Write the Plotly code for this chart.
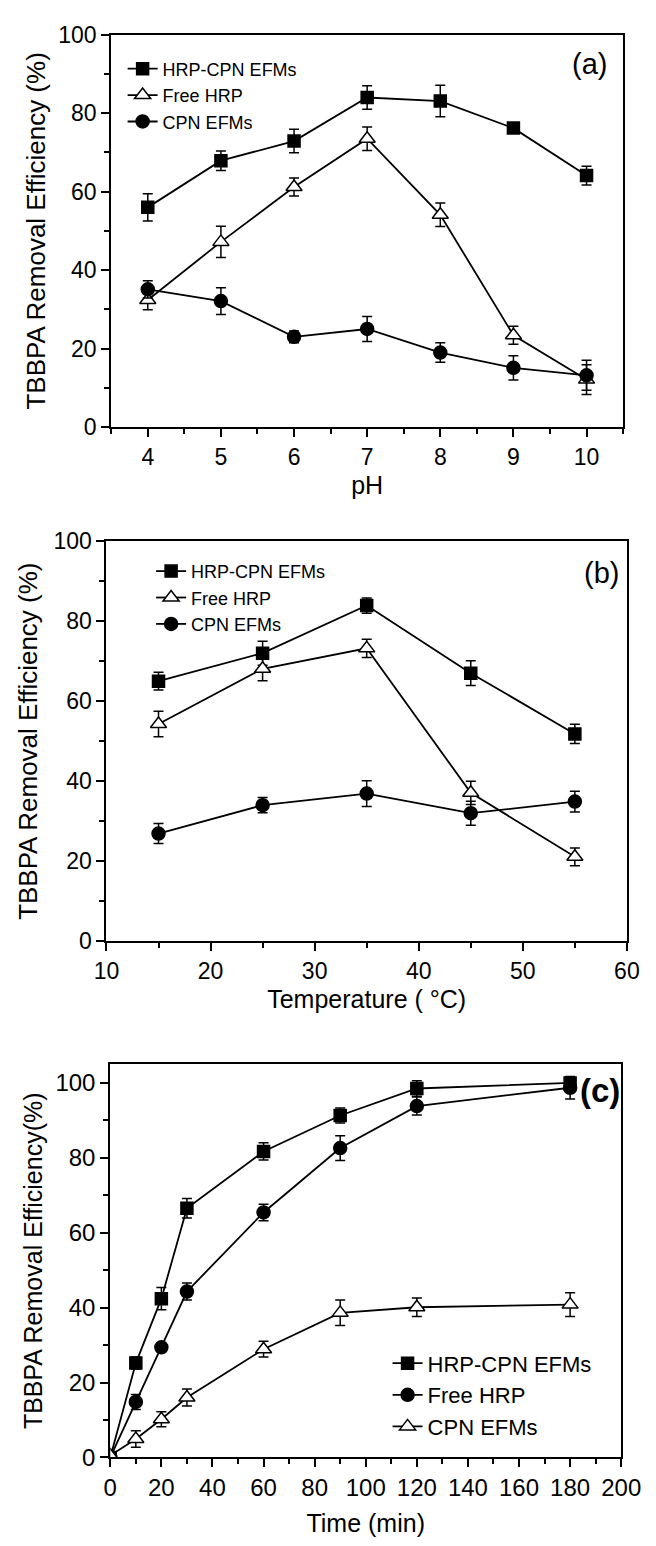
import plotly.graph_objects as go

# ---------------- data ----------------
ph = [4, 5, 6, 7, 8, 9, 10]
a_hrp_cpn = [56.0, 67.9, 72.9, 84.0, 83.1, 76.2, 64.1]
a_hrp_cpn_err = [3.5, 2.5, 3.0, 3.0, 4.0, 1.2, 2.4]
a_free = [32.4, 47.2, 61.2, 73.5, 54.1, 23.4, 12.1]
a_free_err = [2.5, 4.0, 2.3, 3.0, 3.0, 2.3, 3.8]
a_cpn = [35.1, 32.1, 23.0, 25.0, 19.0, 15.1, 13.2]
a_cpn_err = [2.2, 3.4, 1.5, 3.2, 2.5, 3.1, 3.8]

temp = [15, 25, 35, 45, 55]
b_hrp_cpn = [65.0, 72.0, 83.9, 67.0, 51.8]
b_hrp_cpn_err = [2.2, 3.0, 1.9, 3.1, 2.4]
b_free = [54.3, 68.1, 73.2, 37.1, 21.1]
b_free_err = [3.2, 3.0, 2.3, 2.9, 2.2]
b_cpn = [26.9, 34.0, 36.9, 32.0, 34.9]
b_cpn_err = [2.5, 1.9, 3.2, 3.0, 2.6]

time_min = [0, 10, 20, 30, 60, 90, 120, 180]
c_hrp_cpn = [0.0, 25.2, 42.4, 66.5, 81.7, 91.3, 98.5, 100.0]
c_hrp_cpn_err = [0, 1.6, 3.0, 2.6, 2.3, 2.0, 2.1, 1.5]
c_free = [0.0, 14.8, 29.4, 44.3, 65.4, 82.6, 93.8, 98.7]
c_free_err = [0, 2.0, 0.8, 2.3, 2.2, 3.3, 2.4, 3.0]
c_cpn = [0.5, 4.9, 10.2, 16.0, 28.9, 38.6, 40.1, 40.8]
c_cpn_err = [0, 2.2, 2.0, 2.3, 2.1, 3.4, 2.5, 3.2]

# ---------------- figure ----------------
W, H = 656, 1546
FONT = "Liberation Sans, Arial, sans-serif"

SQ, TRI, CIR = 12, 14, 13

fig = go.Figure()


def add(x, y, err, name, symbol, filled, xa, ya, legend, msize):
    fig.add_trace(go.Scatter(
        x=x, y=y, name=name, mode="lines+markers",
        xaxis=xa, yaxis=ya, legend=legend,
        line=dict(color="black", width=1.8),
        marker=dict(symbol=symbol, size=msize,
                    color="black" if filled else "white",
                    line=dict(color="black", width=1.5)),
        error_y=dict(type="data", array=err, visible=True,
                     color="black", thickness=1.5, width=5),
    ))


add(ph, a_hrp_cpn, a_hrp_cpn_err, "HRP-CPN EFMs", "square", True, "x", "y", "legend", SQ)
add(ph, a_free, a_free_err, "Free HRP", "triangle-up", False, "x", "y", "legend", TRI)
add(ph, a_cpn, a_cpn_err, "CPN EFMs", "circle", True, "x", "y", "legend", CIR)

add(temp, b_hrp_cpn, b_hrp_cpn_err, "HRP-CPN EFMs", "square", True, "x2", "y2", "legend2", SQ)
add(temp, b_free, b_free_err, "Free HRP", "triangle-up", False, "x2", "y2", "legend2", TRI)
add(temp, b_cpn, b_cpn_err, "CPN EFMs", "circle", True, "x2", "y2", "legend2", CIR)

add(time_min, c_hrp_cpn, c_hrp_cpn_err, "HRP-CPN EFMs", "square", True, "x3", "y3", "legend3", SQ)
add(time_min, c_free, c_free_err, "Free HRP", "circle", True, "x3", "y3", "legend3", CIR)
add(time_min, c_cpn, c_cpn_err, "CPN EFMs", "triangle-up", False, "x3", "y3", "legend3", TRI)


def px(v):
    return v / W


def py(v):
    return 1 - v / H


def axis(domain, rng, dtick, minor_dtick, title, tick_size, title_size, anchor, standoff, tick0=None):
    d = dict(
        domain=domain, range=rng, dtick=dtick, anchor=anchor,
        showline=True, linecolor="black", linewidth=2, mirror=True,
        ticks="outside", ticklen=8, tickwidth=2, tickcolor="black",
        showgrid=False, zeroline=False,
        tickfont=dict(family=FONT, size=tick_size, color="black"),
        title=dict(text=title, standoff=standoff,
                   font=dict(family=FONT, size=title_size, color="black")),
        minor=dict(ticks="outside", ticklen=5, tickwidth=2, tickcolor="black", dtick=minor_dtick),
    )
    if tick0 is not None:
        d["tick0"] = tick0
    return d


def legend_box(x, y, size):
    return dict(x=px(x), y=py(y), xanchor="left", yanchor="top",
                bgcolor="rgba(0,0,0,0)", font=dict(family=FONT, size=size, color="black"),
                tracegroupgap=0)


fig.update_layout(
    width=W, height=H, margin=dict(l=0, r=0, t=0, b=0),
    paper_bgcolor="white", plot_bgcolor="white",
    font=dict(family=FONT, color="black"),
    showlegend=True,
    xaxis=axis([px(95), px(634)], [3.5, 10.5], 1, 0.5, "pH", 23, 25, "y", 8),
    yaxis=axis([py(413), py(14)], [0, 100], 20, 10, "TBBPA Removal Efficiency (%)", 23, 26, "x", 5),
    xaxis2=axis([px(90), px(638)], [10, 60], 10, 5, "Temperature ( °C)", 23, 25, "y2", 8),
    yaxis2=axis([py(936), py(529)], [0, 100], 20, 10, "TBBPA Removal Efficiency (%)", 23, 26, "x2", 8),
    xaxis3=axis([px(94), px(632)], [0, 200], 20, 10, "Time (min)", 24, 25, "y3", 14),
    yaxis3=axis([py(1461), py(1061)], [0, 105], 20, 10, "TBBPA Removal Efficiency(%)", 24, 25, "x3", 6, tick0=0),
    legend=legend_box(107, 30, 18),
    legend2=legend_box(137, 541, 18),
    legend3=legend_box(386, 1344, 22),
    annotations=[
        dict(text="(a)", x=px(599), y=py(44), xref="paper", yref="paper",
             xanchor="center", yanchor="middle",
             showarrow=False, font=dict(family=FONT, size=29, color="black")),
        dict(text="(b)", x=px(611), y=py(561), xref="paper", yref="paper",
             xanchor="center", yanchor="middle",
             showarrow=False, font=dict(family=FONT, size=29, color="black")),
        dict(text="<b>(c)</b>", x=px(610), y=py(1088), xref="paper", yref="paper",
             xanchor="center", yanchor="middle",
             showarrow=False, font=dict(family=FONT, size=33, color="black")),
    ],
)

fig.write_html("out.html")
